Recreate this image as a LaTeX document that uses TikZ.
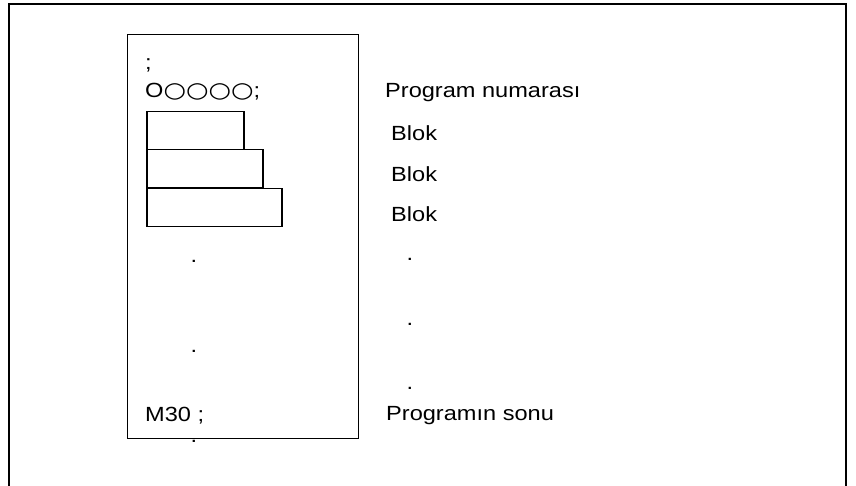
\documentclass[tikz,border=0pt]{standalone}
\usepackage{fontspec}
\setmainfont{Liberation Sans}[FakeStretch=1.15]
\newfontfamily\circfont{DejaVu Sans}[FakeStretch=1.2,Scale=1.05]
\begin{document}
\begin{tikzpicture}[x=1pt,y=-1pt]
				\tikzstyle{txt}=[anchor=base west,inner sep=0pt,font=\fontsize{20.5}{24}\selectfont]
				\tikzstyle{dot}=[anchor=base,inner sep=0pt,font=\fontsize{20.5}{24}\selectfont]
				\tikzstyle{blockbox}=[draw=black,line width=1.5pt,anchor=north west,inner sep=0pt,minimum height=38pt]
				\tikzstyle{frame}=[draw=black,line width=2.2pt]
				\useasboundingbox (0,0) rectangle (856,486);

				 % outer frame, open at the bottom
				 \coordinate (fl) at (9,486);
				 \coordinate (fr) at (846,486);
				 \path[frame] (fl) |- (846,4) -- (fr);

				 % program listing
				 \node [draw=black,line width=1.3pt,anchor=north west,inner sep=0pt,minimum width=231pt,minimum height=404pt] (prog) at (127,34) {};
				 \node [txt] (semi) at (145,70) {;};
				 \node [txt] (onum) at (145,98) {O{\circfont ○○○○};};
				 \node [blockbox,minimum width=97pt] (b1) at (146,111) {};
				 \node [blockbox,minimum width=116pt] (b2) at (146,149) {};
				 \node [blockbox,minimum width=135pt] (b3) at (146,188) {};
				 \node [dot] (d1) at (194,262) {.};
				 \node [dot] (d2) at (194,352) {.};
				 \node [txt] (m30) at (145,421) {M30 ;};
				 \node [dot] (d3) at (194,442) {.};

				 % explanations
				 \node [txt] (pnum) at (385,98) {Program numarası};
				 \node [txt] (l1) at (391,141) {Blok};
				 \node [txt] (l2) at (391,182) {Blok};
				 \node [txt] (l3) at (391,222) {Blok};
				 \node [dot] (e1) at (410,261) {.};
				 \node [dot] (e2) at (410,325) {.};
				 \node [dot] (e3) at (410,389) {.};
				 \node [txt] (pend) at (386,420) {Programın sonu};
			\end{tikzpicture}
\end{document}
